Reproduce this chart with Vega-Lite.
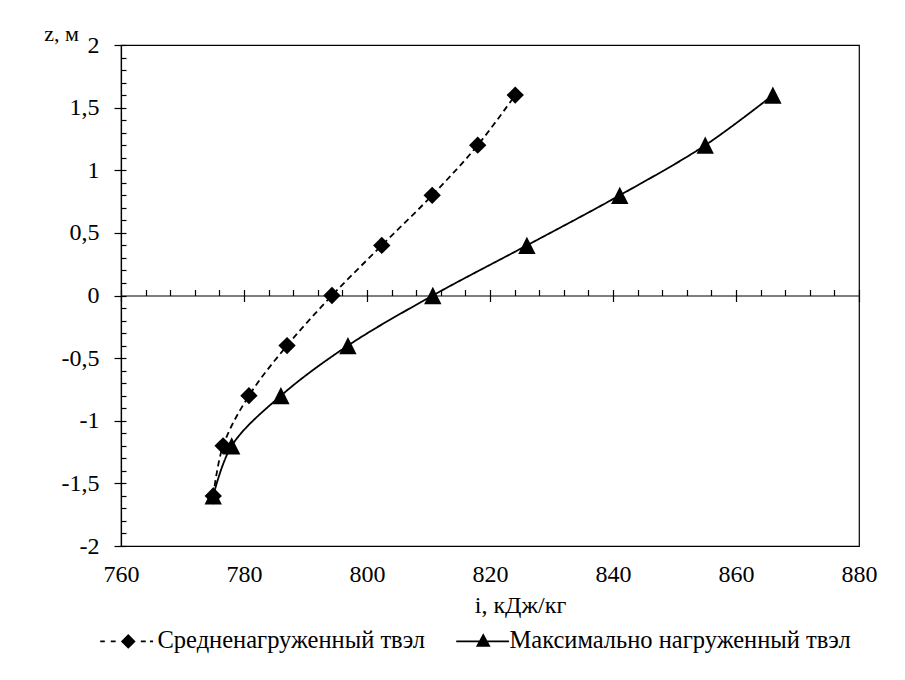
{
  "$schema": "https://vega.github.io/schema/vega-lite/v6.json",
  "width": 738,
  "height": 501,
  "autosize": {"type": "none"},
  "padding": {"left": 121, "top": 45, "right": 46, "bottom": 134},
  "background": "white",
  "config": {
    "font": "Liberation Serif",
    "view": {"stroke": "black", "strokeWidth": 1.2}
  },
  "data": {
    "values": [
      {"s": "Средненагруженный твэл", "i": 775.0, "z": -1.6},
      {"s": "Средненагруженный твэл", "i": 776.6, "z": -1.2},
      {"s": "Средненагруженный твэл", "i": 780.8, "z": -0.8},
      {"s": "Средненагруженный твэл", "i": 787.0, "z": -0.4},
      {"s": "Средненагруженный твэл", "i": 794.3, "z": 0},
      {"s": "Средненагруженный твэл", "i": 802.4, "z": 0.4},
      {"s": "Средненагруженный твэл", "i": 810.6, "z": 0.8},
      {"s": "Средненагруженный твэл", "i": 818.0, "z": 1.2},
      {"s": "Средненагруженный твэл", "i": 824.1, "z": 1.6},
      {"s": "Максимально нагруженный твэл", "i": 775.0, "z": -1.6},
      {"s": "Максимально нагруженный твэл", "i": 778.0, "z": -1.2},
      {"s": "Максимально нагруженный твэл", "i": 786.0, "z": -0.8},
      {"s": "Максимально нагруженный твэл", "i": 796.9, "z": -0.4},
      {"s": "Максимально нагруженный твэл", "i": 810.7, "z": 0},
      {"s": "Максимально нагруженный твэл", "i": 826.0, "z": 0.4},
      {"s": "Максимально нагруженный твэл", "i": 841.1, "z": 0.8},
      {"s": "Максимально нагруженный твэл", "i": 855.0, "z": 1.2},
      {"s": "Максимально нагруженный твэл", "i": 866.0, "z": 1.6}
    ]
  },
  "layer": [
    {
      "mark": {"type": "line", "interpolate": "catmull-rom", "color": "black", "strokeWidth": 1.8},
      "encoding": {
        "x": {
          "field": "i", "type": "quantitative",
          "scale": {"domain": [760, 880], "nice": false, "zero": false},
          "axis": {
            "orient": "bottom", "offset": -250.5,
            "values": [760, 780, 800, 820, 840, 860, 880],
            "tickSize": 6, "tickColor": "black", "tickWidth": 1.2, "domain": false, "grid": false,
            "labelFont": "Liberation Serif", "labelFontSize": 24, "labelColor": "black",
            "labelPadding": 261, "labelFlush": false,
            "title": "i, кДж/кг", "titleFont": "Liberation Serif", "titleFontSize": 24, "titleFontWeight": "normal", "titleColor": "black",
            "titleX": 399, "titleY": 309.5,
            "titleAlign": "center", "titleBaseline": "middle", "titleAnchor": null
          }
        },
        "y": {
          "field": "z", "type": "quantitative",
          "scale": {"domain": [-2, 2], "nice": false, "zero": false},
          "axis": {
            "orient": "left",
            "values": [-2, -1.5, -1, -0.5, 0, 0.5, 1, 1.5, 2],
            "tickSize": 7, "tickColor": "black", "tickWidth": 1.2,
            "domain": true, "domainColor": "black", "domainWidth": 1.2, "grid": false,
            "labelFont": "Liberation Serif", "labelFontSize": 24, "labelColor": "black", "labelPadding": 15,
            "labelExpr": "replace(toString(datum.value), '.', ',')",
            "title": "z, м", "titleFont": "Liberation Serif", "titleFontSize": 22, "titleFontWeight": "normal", "titleColor": "black",
            "titleAngle": 0, "titleX": -60, "titleY": -12,
            "titleAlign": "center", "titleBaseline": "middle", "titleAnchor": null
          }
        },
        "strokeDash": {
          "condition": {"test": "datum.s === 'Средненагруженный твэл'", "value": [6, 4]},
          "value": [1, 0]
        },
        "detail": {"field": "s", "type": "nominal"},
        "order": {"field": "z", "type": "quantitative"}
      }
    },
    {
      "mark": {"type": "point", "filled": true, "color": "black", "opacity": 1, "size": 300},
      "encoding": {
        "x": {
          "field": "i", "type": "quantitative",
          "axis": {
            "orient": "bottom", "offset": -250.5,
            "values": [760, 764, 768, 772, 776, 780, 784, 788, 792, 796, 800, 804, 808, 812, 816, 820, 824, 828, 832, 836, 840, 844, 848, 852, 856, 860, 864, 868, 872, 876, 880],
            "tickSize": -6, "tickColor": "black", "tickWidth": 1.2,
            "labels": false, "domain": true, "domainColor": "black", "domainWidth": 1.2, "grid": false, "title": null
          }
        },
        "y": {
          "field": "z", "type": "quantitative",
          "axis": {
            "orient": "left",
            "values": [-2, -1.9, -1.8, -1.7, -1.6, -1.5, -1.4, -1.3, -1.2, -1.1, -1, -0.9, -0.8, -0.7, -0.6, -0.5, -0.4, -0.3, -0.2, -0.1, 0, 0.1, 0.2, 0.3, 0.4, 0.5, 0.6, 0.7, 0.8, 0.9, 1, 1.1, 1.2, 1.3, 1.4, 1.5, 1.6, 1.7, 1.8, 1.9, 2],
            "tickSize": -5, "tickColor": "black", "tickWidth": 1.2,
            "labels": false, "domain": false, "grid": false, "title": null
          }
        },
        "shape": {
          "condition": [
            {"test": "datum.s === 'Средненагруженный твэл'", "value": "diamond"},
            {"test": "datum.s === 'Максимально нагруженный твэл'", "value": "M0,-1L1,1L-1,1Z"}
          ],
          "field": "s", "type": "nominal",
          "scale": {
            "domain": ["Средненагруженный твэл", "Максимально нагруженный твэл"],
            "range": [
              "M-4,-0.12H-3.35V0.12H-4ZM-2.5,-0.12H-1.8V0.12H-2.5ZM1.8,-0.12H2.5V0.12H1.8ZM3.1,-0.12H3.55V0.12H3.1ZM-1.05,0L0,-1.05L1.05,0L0,1.05Z",
              "M-3.43,-0.12H4.1V0.12H-3.43ZM-0.62,0.75L0.43,-1.15L1.48,0.75Z"
            ]
          },
          "legend": {
            "orient": "none", "legendX": -5, "legendY": 584,
            "direction": "horizontal", "title": null,
            "symbolSize": 196, "labelOffset": 17, "columnPadding": 30,
            "labelFont": "Liberation Serif", "labelFontSize": 24.5, "labelColor": "black", "labelLimit": 1000,
            "padding": 0,
            "symbolFillColor": "black", "symbolStrokeColor": "black", "symbolStrokeWidth": 0.5
          }
        }
      }
    }
  ],
  "resolve": {"axis": {"x": "independent", "y": "independent"}}
}
